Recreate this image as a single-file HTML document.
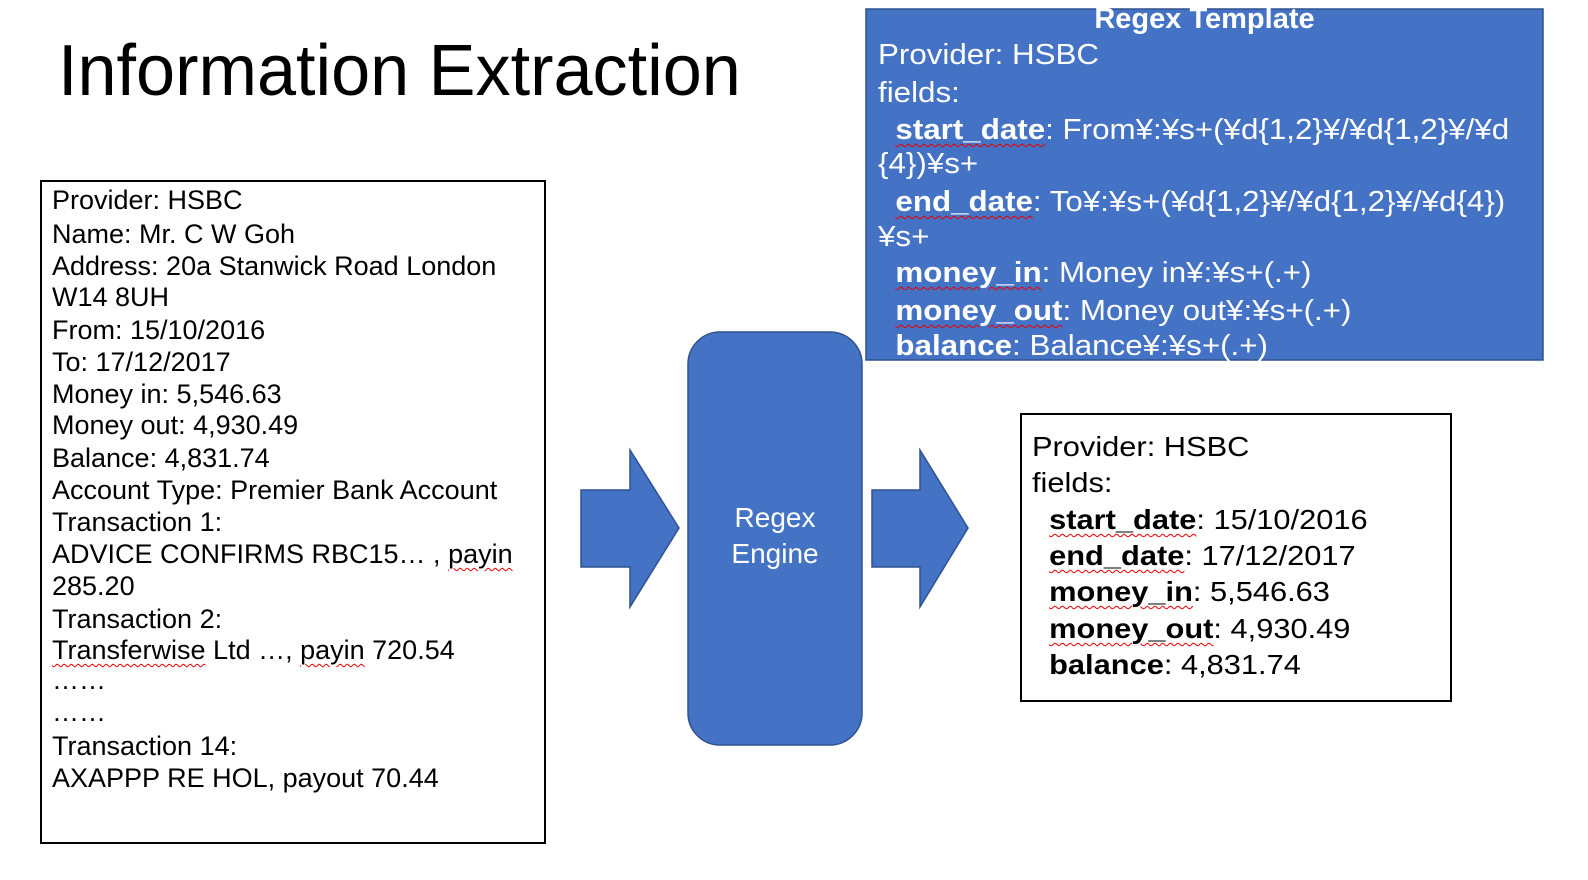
<!DOCTYPE html>
<html><head><meta charset="utf-8"><style>
body{margin:0;width:1588px;height:880px;background:#fff;position:relative;overflow:hidden;font-family:"Liberation Sans","Noto Sans CJK JP",sans-serif;}
.a{position:absolute;white-space:nowrap;transform-origin:0 0;}
.t{font-size:27px;color:#000;line-height:32px}
.w{font-size:29px;color:#fff;transform:scaleX(1.08);line-height:34px}
.r{font-size:28px;color:#000;transform:scaleX(1.1);line-height:34px}
.u{text-decoration:underline wavy #e00;text-decoration-thickness:1px;text-underline-offset:4px}
b{font-weight:bold}
</style></head><body>
<div class="a" style="left:58px;top:30px;font-size:72px;transform:scaleX(0.975);">Information Extraction</div>

<div class="a" style="left:40px;top:180px;width:502px;height:660px;border:2px solid #000;"></div>
<div class="a t" style="left:52px;top:184px">Provider: HSBC</div>
<div class="a t" style="left:52px;top:218px">Name: Mr. C W Goh</div>
<div class="a t" style="left:52px;top:250px">Address: 20a Stanwick Road London</div>
<div class="a t" style="left:52px;top:281px">W14 8UH</div>
<div class="a t" style="left:52px;top:314px">From: 15/10/2016</div>
<div class="a t" style="left:52px;top:346px">To: 17/12/2017</div>
<div class="a t" style="left:52px;top:378px">Money in: 5,546.63</div>
<div class="a t" style="left:52px;top:409px">Money out: 4,930.49</div>
<div class="a t" style="left:52px;top:442px">Balance: 4,831.74</div>
<div class="a t" style="left:52px;top:474px">Account Type: Premier Bank Account</div>
<div class="a t" style="left:52px;top:506px">Transaction 1:</div>
<div class="a t" style="left:52px;top:538px">ADVICE CONFIRMS RBC15… , <span class="u">payin</span></div>
<div class="a t" style="left:52px;top:570px">285.20</div>
<div class="a t" style="left:52px;top:603px">Transaction 2:</div>
<div class="a t" style="left:52px;top:634px"><span class="u">Transferwise</span> Ltd …, <span class="u">payin</span> 720.54</div>
<div class="a t" style="left:52px;top:664px">……</div>
<div class="a t" style="left:52px;top:696px">……</div>
<div class="a t" style="left:52px;top:730px">Transaction 14:</div>
<div class="a t" style="left:52px;top:762px">AXAPPP RE HOL, payout 70.44</div>

<svg class="a" style="left:0;top:0" width="1588" height="880">
<polygon points="581,490 630,490 630,450 679,528 630,607 630,567 581,567" fill="#4472C4" stroke="#2F528F" stroke-width="1.5"/>
<polygon points="872,490 920,490 920,450 968,528 920,607 920,567 872,567" fill="#4472C4" stroke="#2F528F" stroke-width="1.5"/>
<rect x="688" y="332" width="174" height="413" rx="32" fill="#4472C4" stroke="#2F528F" stroke-width="1.5"/>
<rect x="866" y="9" width="677" height="351" fill="#4472C4" stroke="#2F528F" stroke-width="1.5"/>
</svg>
<div class="a" style="left:688px;top:500px;width:174px;text-align:center;color:#fff;font-size:28px;line-height:36px;">Regex<br>Engine</div>

<div class="a" style="left:866px;top:3px;width:677px;text-align:center;color:#fff;font-size:29px;font-weight:bold;"><span style="display:inline-block;">Regex Template</span></div>
<div class="a w" style="left:878px;top:38px">Provider: HSBC</div>
<div class="a w" style="left:878px;top:76px">fields:</div>
<div class="a w" style="left:878px;top:113px">&nbsp;&nbsp;<b class="u">start_date</b>: From¥:¥s+(¥d{1,2}¥/¥d{1,2}¥/¥d</div>
<div class="a w" style="left:878px;top:147px">{4})¥s+</div>
<div class="a w" style="left:878px;top:185px">&nbsp;&nbsp;<b class="u">end_date</b>: To¥:¥s+(¥d{1,2}¥/¥d{1,2}¥/¥d{4})</div>
<div class="a w" style="left:878px;top:220px">¥s+</div>
<div class="a w" style="left:878px;top:256px">&nbsp;&nbsp;<b class="u">money_in</b>: Money in¥:¥s+(.+)</div>
<div class="a w" style="left:878px;top:294px">&nbsp;&nbsp;<b class="u">money_out</b>: Money out¥:¥s+(.+)</div>
<div class="a w" style="left:878px;top:329px">&nbsp;&nbsp;<b>balance</b>: Balance¥:¥s+(.+)</div>

<div class="a" style="left:1020px;top:413px;width:428px;height:285px;border:2px solid #000;"></div>
<div class="a r" style="left:1032px;top:430px">Provider: HSBC</div>
<div class="a r" style="left:1032px;top:466px">fields:</div>
<div class="a r" style="left:1032px;top:503px">&nbsp;&nbsp;<b class="u">start_date</b>: 15/10/2016</div>
<div class="a r" style="left:1032px;top:539px">&nbsp;&nbsp;<b class="u">end_date</b>: 17/12/2017</div>
<div class="a r" style="left:1032px;top:575px">&nbsp;&nbsp;<b class="u">money_in</b>: 5,546.63</div>
<div class="a r" style="left:1032px;top:612px">&nbsp;&nbsp;<b class="u">money_out</b>: 4,930.49</div>
<div class="a r" style="left:1032px;top:648px">&nbsp;&nbsp;<b>balance</b>: 4,831.74</div>
</body></html>
